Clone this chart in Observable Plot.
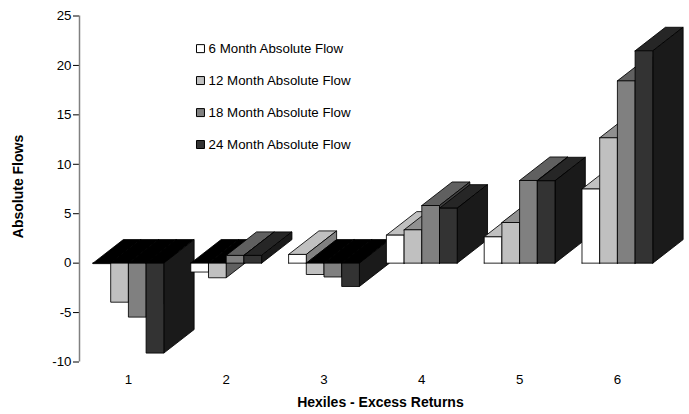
<!DOCTYPE html>
<html>
<head>
<meta charset="utf-8">
<script src="https://cdn.jsdelivr.net/npm/d3@7"></script>
<script src="https://cdn.jsdelivr.net/npm/@observablehq/plot@0.6"></script>
<style>
html,body{margin:0;padding:0;background:#fff}
svg{display:block}
</style>
</head>
<body>
<div id="chart"></div>
<script>
const hexiles = [1, 2, 3, 4, 5, 6];
const flow6  = [-0.05, -0.9, 0.88, 2.83, 2.66, 7.5];
const flow12 = [-3.95, -1.48, -1.15, 3.37, 4.11, 12.68];
const flow18 = [-5.46, 0.78, -1.4, 5.83, 8.36, 18.44];
const flow24 = [-9.1, 0.78, -2.36, 5.56, 8.33, 21.48];
const seriesNames = ["6 Month Absolute Flow", "12 Month Absolute Flow", "18 Month Absolute Flow", "24 Month Absolute Flow"];
const seriesValues = [flow6, flow12, flow18, flow24];
const frontColors = ["#ffffff", "#c0c0c0", "#808080", "#333333"];
const topColors   = ["#c0c0c0", "#909090", "#606060", "#262626"];
const sideColors  = ["#808080", "#606060", "#404040", "#1a1a1a"];
const negativeTop = "#000000";
const yTicks = [-10, -5, 0, 5, 10, 15, 20, 25];

// Bar width and 3-D depth, in scale units
const barW = 0.181, depthX = 0.31, depthY = 2.38;

// One closed polygon per visible face, in back-to-front paint order
const faces = [];
function addFace(id, fill, pts) {
  for (const [x, y] of [...pts, pts[0]]) faces.push({id, fill, x, y});
}
hexiles.forEach((h, g) => {
  seriesValues.forEach((vals, s) => {
    const v = vals[g];
    const x1 = h + (s - 2) * barW, x2 = x1 + barW;
    const topY = Math.max(v, 0);
    addFace(`t${g}${s}`, v < 0 ? negativeTop : topColors[s],
      [[x1, topY], [x2, topY], [x2 + depthX, topY + depthY], [x1 + depthX, topY + depthY]]);
    addFace(`s${g}${s}`, sideColors[s],
      [[x2, 0], [x2, v], [x2 + depthX, v + depthY], [x2 + depthX, depthY]]);
    addFace(`f${g}${s}`, frontColors[s],
      [[x1, 0], [x2, 0], [x2, v], [x1, v]]);
  });
});

const legendRows = seriesNames.map((name, i) => ({name, color: frontColors[i], y: [21.7, 18.47, 15.23, 12][i]}));

const plot = Plot.plot({
  width: 689,
  height: 414,
  marginLeft: 79,
  marginRight: 23.2,
  marginTop: 15.5,
  marginBottom: 52.5,
  style: {fontFamily: "'Liberation Sans', Arial, sans-serif", fontSize: "13.3px", color: "#000", background: "#fff"},
  x: {domain: [0.5, 6.5], axis: null},
  y: {domain: [-10, 25], axis: null},
  color: {type: "identity"},
  marks: [
    Plot.line(faces, {x: "x", y: "y", z: "id", fill: "fill", stroke: "#000", strokeWidth: 1, strokeLinejoin: "miter", strokeOpacity: 0.85}),
    Plot.axisY({ticks: yTicks, tickFormat: d => String(d), tickSize: 6, tickPadding: 2, label: null, anchor: "left", fontSize: 13.3}),
    Plot.ruleX([0.5], {stroke: "#808080", strokeWidth: 1.5}),
    Plot.axisX({ticks: hexiles, tickFormat: d => String(d), tickSize: 0, tickPadding: 13, label: null, anchor: "bottom", fontSize: 13.3}),
    Plot.text(["Hexiles - Excess Returns"], {frameAnchor: "bottom", textAnchor: "middle", dx: 7.5, dy: 45, fontWeight: "bold", fontSize: 14}),
    Plot.text(["Absolute Flows"], {frameAnchor: "left", textAnchor: "middle", rotate: -90, dx: -61, dy: -2.5, fontWeight: "bold", fontSize: 14}),
    Plot.dot(legendRows, {x: 1.737, y: "y", symbol: "square", r: 4.5, fill: "color", stroke: "#000", strokeWidth: 1}),
    Plot.text(legendRows, {x: 1.82, y: "y", text: "name", textAnchor: "start", fontSize: 13.3})
  ]
});
document.getElementById("chart").append(plot);
</script>
</body>
</html>
